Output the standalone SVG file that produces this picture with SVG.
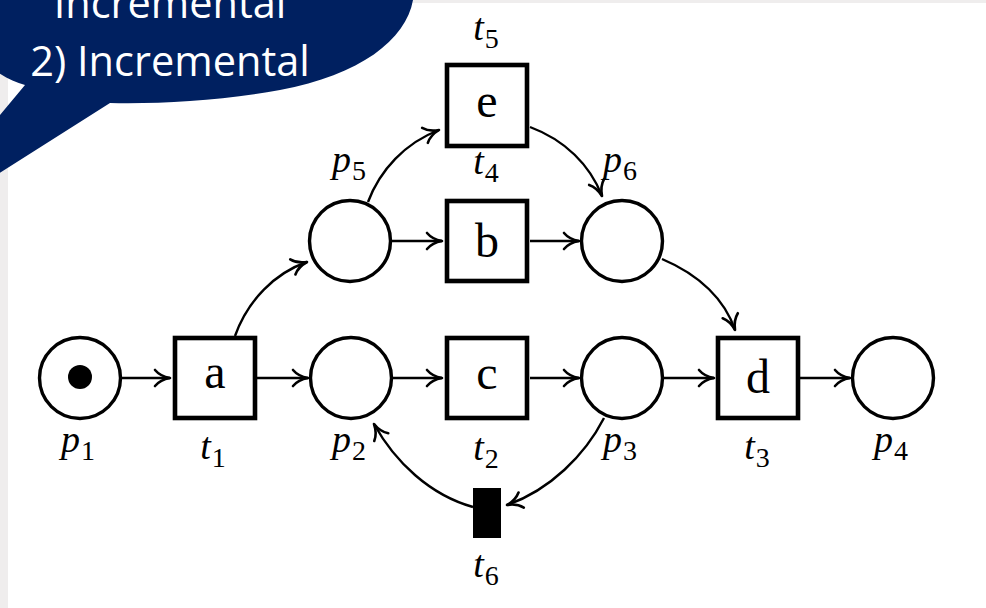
<svg xmlns="http://www.w3.org/2000/svg" width="986" height="608" viewBox="0 0 986 608">
<defs>
<style>
.place{fill:#fff;stroke:#000;stroke-width:3.4}
.trans{fill:#fff;stroke:#000;stroke-width:4.6}
.silent{fill:#000;stroke:none}
.arc{fill:none;stroke:#000;stroke-width:2.4}
.box{font-family:"Liberation Serif",serif;font-size:48px;fill:#000;text-anchor:middle}
.lbl{font-family:"Liberation Serif",serif;font-size:38px;fill:#000;text-anchor:middle}
.it{font-style:italic}
.sub{font-size:28px}
.callout-text{font-family:"Open Sans","Noto Sans",sans-serif;font-size:41.5px;fill:#fff;text-anchor:middle}
</style>
<marker id="arr" markerUnits="userSpaceOnUse" viewBox="-18 -11 21 22" markerWidth="21" markerHeight="22" refX="0" refY="0" orient="auto">
<path d="M-15,-8 C-11,-3.2 -4.5,-0.8 0,0 C-4.5,0.8 -11,3.2 -15,8" fill="none" stroke="#000" stroke-width="2.6" stroke-linecap="round" stroke-linejoin="round"/>
</marker>
</defs>
<rect x="0" y="0" width="986" height="608" fill="#fff"/>
<rect x="0" y="0" width="986" height="3" fill="#efeded"/>
<rect x="0" y="0" width="8" height="608" fill="#efeded"/>

<g id="connectors">
<path class="arc" marker-end="url(#arr)" d="M121.5,378 L170,378"/>
<path class="arc" marker-end="url(#arr)" d="M257,378 L308,378"/>
<path class="arc" marker-end="url(#arr)" d="M392,378 L442,378"/>
<path class="arc" marker-end="url(#arr)" d="M530,378 L579,378"/>
<path class="arc" marker-end="url(#arr)" d="M664,378 L714,378"/>
<path class="arc" marker-end="url(#arr)" d="M800,378 L850,378"/>
<path class="arc" marker-end="url(#arr)" d="M391,241 L442,241"/>
<path class="arc" marker-end="url(#arr)" d="M530,241 L579,241"/>
<path class="arc" marker-end="url(#arr)" d="M235,336 C248,300 275,273 307,262"/>
<path class="arc" marker-end="url(#arr)" d="M368,202 C380,170 405,143 439,130"/>
<path class="arc" marker-end="url(#arr)" d="M530,127 C565,140 590,165 602,196"/>
<path class="arc" marker-end="url(#arr)" d="M662,259 C700,275 725,300 735,330"/>
<path class="arc" marker-end="url(#arr)" d="M604,418 C585,455 550,490 507,505"/>
<path class="arc" marker-end="url(#arr)" d="M473,507 C430,495 395,462 374,424"/>
</g>

<g id="p1">
<circle class="place" cx="80" cy="378" r="40.5"/>
<circle cx="80" cy="377" r="12" fill="#000"/>
<text class="lbl" x="78" y="452"><tspan class="it">p</tspan><tspan class="sub" dx="1" dy="8">1</tspan></text>
</g>
<g id="t1">
<rect class="trans" x="175" y="338" width="80" height="80"/>
<text class="box" x="215" y="388">a</text>
<text class="lbl" x="213" y="459"><tspan class="it">t</tspan><tspan class="sub" dx="1" dy="8">1</tspan></text>
</g>
<g id="p2">
<circle class="place" cx="351" cy="378" r="40.5"/>
<text class="lbl" x="349" y="452"><tspan class="it">p</tspan><tspan class="sub" dx="1" dy="8">2</tspan></text>
</g>
<g id="t2">
<rect class="trans" x="447" y="338" width="80" height="80"/>
<text class="box" x="487" y="389">c</text>
<text class="lbl" x="486" y="460"><tspan class="it">t</tspan><tspan class="sub" dx="1" dy="8">2</tspan></text>
</g>
<g id="p3">
<circle class="place" cx="622" cy="378" r="40.5"/>
<text class="lbl" x="620" y="452"><tspan class="it">p</tspan><tspan class="sub" dx="1" dy="8">3</tspan></text>
</g>
<g id="t3">
<rect class="trans" x="718" y="338" width="80" height="80"/>
<text class="box" x="758" y="393">d</text>
<text class="lbl" x="757" y="459"><tspan class="it">t</tspan><tspan class="sub" dx="1" dy="8">3</tspan></text>
</g>
<g id="p4">
<circle class="place" cx="893" cy="378" r="40.5"/>
<text class="lbl" x="891" y="452"><tspan class="it">p</tspan><tspan class="sub" dx="1" dy="8">4</tspan></text>
</g>
<g id="p5">
<circle class="place" cx="350" cy="241" r="40.5"/>
<text class="lbl" x="349" y="172"><tspan class="it">p</tspan><tspan class="sub" dx="1" dy="8">5</tspan></text>
</g>
<g id="t4">
<rect class="trans" x="447" y="201" width="80" height="80"/>
<text class="box" x="487" y="257">b</text>
<text class="lbl" x="486" y="174"><tspan class="it">t</tspan><tspan class="sub" dx="1" dy="8">4</tspan></text>
</g>
<g id="p6">
<circle class="place" cx="622" cy="241" r="40.5"/>
<text class="lbl" x="620" y="172"><tspan class="it">p</tspan><tspan class="sub" dx="1" dy="8">6</tspan></text>
</g>
<g id="t5">
<rect class="trans" x="447" y="65" width="80" height="81"/>
<text class="box" x="487" y="117">e</text>
<text class="lbl" x="486" y="40"><tspan class="it">t</tspan><tspan class="sub" dx="1" dy="8">5</tspan></text>
</g>
<g id="t6">
<rect class="silent" x="473" y="488" width="28" height="50"/>
<text class="lbl" x="486" y="577"><tspan class="it">t</tspan><tspan class="sub" dx="1" dy="8">6</tspan></text>
</g>

<g id="callout">
<path fill="#002060" d="M-5,-5 L414,-5 L413,0 C406,40 360,75 280,90 C220,101 160,104 110,103 L-5,176 L-5,121 L25,85 C15,82 5,78 -5,70 Z"/>
<text class="callout-text" x="170" y="18">Incremental</text>
<text class="callout-text" x="170" y="76">2) Incremental</text>
</g>
</svg>
